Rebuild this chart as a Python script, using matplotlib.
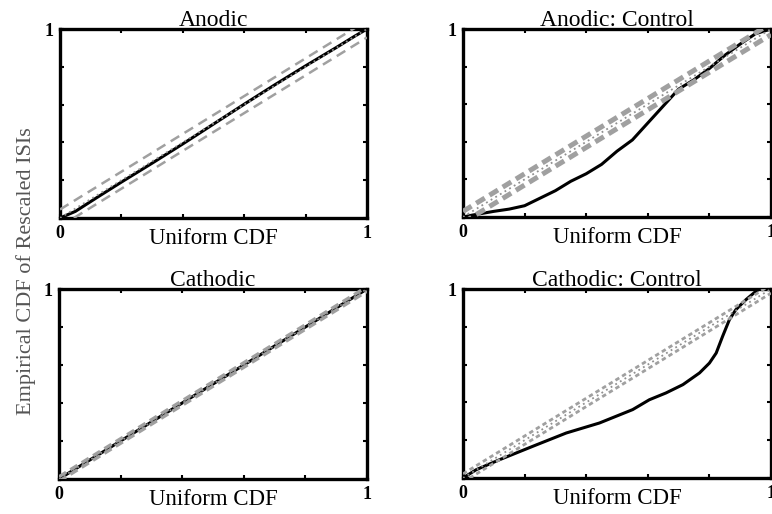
import matplotlib.pyplot as plt

plt.rcParams['font.family'] = ['Liberation Serif', 'DejaVu Serif']

titles = ['Anodic', 'Anodic: Control', 'Cathodic', 'Cathodic: Control']

# empirical CDF of rescaled ISIs vs uniform CDF
anodic_x = [0.0, 0.05, 0.12, 0.2, 0.3, 0.4, 0.5, 0.6, 0.7, 0.8, 0.9, 0.96, 1.0]
anodic_y = [0.0, 0.035, 0.108, 0.19, 0.29, 0.392, 0.497, 0.602, 0.705, 0.805, 0.902, 0.962, 1.0]

anodic_ctrl_x = [0.0, 0.03, 0.1, 0.15, 0.2, 0.25, 0.3, 0.35, 0.4, 0.45, 0.5,
                 0.55, 0.6, 0.65, 0.7, 0.75, 0.8, 0.85, 0.9, 0.95, 1.0]
anodic_ctrl_y = [0.0, 0.01, 0.03, 0.042, 0.06, 0.1, 0.14, 0.19, 0.23, 0.28, 0.35,
                 0.41, 0.5, 0.59, 0.68, 0.73, 0.79, 0.86, 0.92, 0.975, 1.0]

cathodic_x = [0.0, 0.1, 0.2, 0.3, 0.4, 0.5, 0.6, 0.7, 0.8, 0.9, 1.0]
cathodic_y = [0.0, 0.1, 0.2, 0.3, 0.4, 0.5, 0.6, 0.7, 0.8, 0.9, 1.0]

cathodic_ctrl_x = [0.0, 0.043, 0.119, 0.227, 0.335, 0.443, 0.551, 0.605, 0.659, 0.714,
                   0.768, 0.800, 0.822, 0.843, 0.865, 0.886, 0.919, 0.951, 0.962, 1.0]
cathodic_ctrl_y = [0.0, 0.044, 0.097, 0.168, 0.238, 0.291, 0.362, 0.414, 0.450, 0.494,
                   0.556, 0.608, 0.661, 0.750, 0.838, 0.891, 0.944, 0.988, 1.0, 1.0]

curves = [(anodic_x, anodic_y), (anodic_ctrl_x, anodic_ctrl_y),
          (cathodic_x, cathodic_y), (cathodic_ctrl_x, cathodic_ctrl_y)]

# confidence band half-widths around the diagonal
band_half = [0.045, 0.03, 0.012, 0.022]
band_lw = [1.8, 3.6, 2.4, 2.0]
band_dash = [(4, 2.5), (2.0, 1.1), (2.5, 1.5), (1.6, 1.2)]

diag = [0.0, 1.0]

# axes rectangles in pixels: left, top, right, bottom
W, H = 772, 514
boxes = [(60, 29, 367, 218), (463, 29, 771, 217),
         (59, 289, 367, 479), (463, 289, 771, 478)]

fig = plt.figure(figsize=(W / 100, H / 100), dpi=100)

for i, (l, t, r, b) in enumerate(boxes):
    ax = fig.add_axes([l / W, 1 - b / H, (r - l) / W, (b - t) / H])
    cx, cy = curves[i]
    ax.plot(cx, cy, color='black', lw=2.2, zorder=3)
    for s in (1, -1):
        ax.plot(diag, [v + s * band_half[i] for v in diag], color='#a0a0a0',
                lw=band_lw[i], dashes=band_dash[i], zorder=4)
    ax.plot(diag, diag, color='#909090', lw=1.3, ls=(0, (1, 2)), zorder=5)

    ax.set_xlim(0, 1)
    ax.set_ylim(0, 1)
    for sp in ax.spines.values():
        sp.set_linewidth(2.4)
    ticks = [0, 0.2, 0.4, 0.6, 0.8, 1.0]
    ax.set_xticks(ticks)
    ax.set_yticks(ticks)
    ax.set_xticklabels(['0', '', '', '', '', '1'])
    ax.set_yticklabels(['', '', '', '', '', '1'])
    ax.tick_params(direction='in', length=3, width=1.5, top=True, right=True,
                   labelsize=13, pad=5)
    for lab in ax.get_xticklabels() + ax.get_yticklabels():
        lab.set_fontweight('bold')
    ax.set_title(titles[i], fontsize=17, pad=2)
    ax.set_xlabel('Uniform CDF', fontsize=16.5)
    ax.xaxis.set_label_coords(0.5, -0.055)

fig.text(0.034, 0.473, 'Empirical CDF of Rescaled ISIs', rotation=90,
         ha='center', va='center', fontsize=16, color='#555555')

fig.savefig('out.png', dpi=100)
